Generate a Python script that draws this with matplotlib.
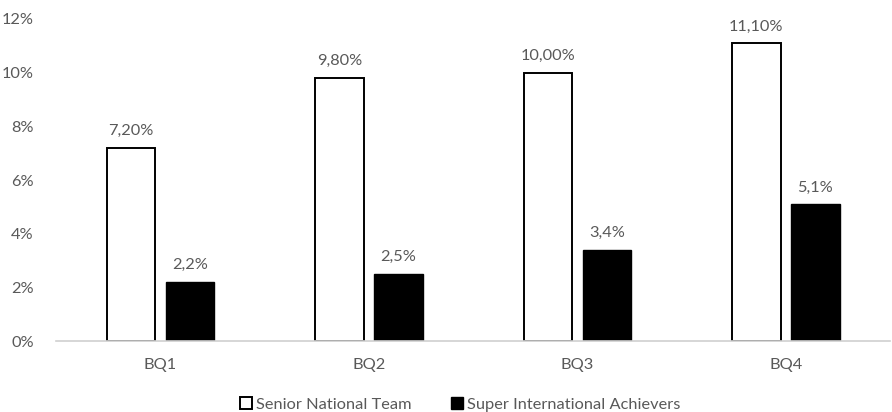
import matplotlib
matplotlib.use("Agg")
import matplotlib.pyplot as plt
import numpy as np
from matplotlib.patches import Patch

categories = ["BQ1", "BQ2", "BQ3", "BQ4"]
senior_team = [7.20, 9.80, 10.00, 11.10]
super_achievers = [2.2, 2.5, 3.4, 5.1]
senior_labels = ["7,20%", "9,80%", "10,00%", "11,10%"]
super_labels = ["2,2%", "2,5%", "3,4%", "5,1%"]
y_ticks = [0, 2, 4, 6, 8, 10, 12]
y_tick_labels = ["0%", "2%", "4%", "6%", "8%", "10%", "12%"]

plt.rcParams["font.family"] = ["Lato", "DejaVu Sans"]
text_color = "#595959"
fs = 11.8

fig = plt.figure(figsize=(8.92, 4.12), dpi=100)
ax = fig.add_axes([0.0628, 0.1723, 0.9352, 0.7816])

x = np.arange(len(categories))
width = 0.232
offset = 0.1415

b1 = ax.bar(x - offset, senior_team, width, color="white", edgecolor="black", linewidth=1.4)
b2 = ax.bar(x + offset, super_achievers, width, color="black", edgecolor="black", linewidth=1.0)

for rect, lab in zip(b1, senior_labels):
    ax.annotate(lab, (rect.get_x() + rect.get_width() / 2, rect.get_height()),
                xytext=(0, 7), textcoords="offset points", ha="center", va="bottom",
                fontsize=fs, color=text_color)
for rect, lab in zip(b2, super_labels):
    ax.annotate(lab, (rect.get_x() + rect.get_width() / 2, rect.get_height()),
                xytext=(0, 7), textcoords="offset points", ha="center", va="bottom",
                fontsize=fs, color=text_color)

ax.set_xlim(-0.5, len(categories) - 0.5)
ax.set_ylim(0, 12)
ax.set_yticks(y_ticks)
ax.set_yticklabels(y_tick_labels)
ax.set_xticks(x)
ax.set_xticklabels(categories)
ax.tick_params(axis="both", length=0, labelsize=fs, colors=text_color)
ax.tick_params(axis="y", pad=16)
ax.tick_params(axis="x", pad=12)

for side in ["top", "right", "left"]:
    ax.spines[side].set_visible(False)
ax.spines["bottom"].set_color("#d0d0d0")
ax.spines["bottom"].set_linewidth(1.2)

handles = [Patch(facecolor="white", edgecolor="black", linewidth=1.4, label="Senior National Team"),
           Patch(facecolor="black", edgecolor="black", label="Super International Achievers")]
leg = fig.legend(handles=handles, loc="center", bbox_to_anchor=(0.516, 0.018), ncol=2,
                 frameon=False, fontsize=fs, handlelength=0.75, handleheight=0.75,
                 handletextpad=0.25, columnspacing=2.4)
for t in leg.get_texts():
    t.set_color(text_color)

fig.savefig("out.png", dpi=100)
